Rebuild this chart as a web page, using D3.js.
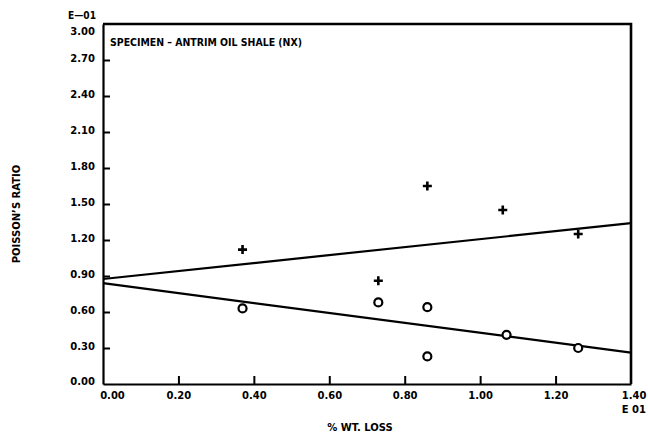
<!DOCTYPE html>
<html>
<head>
<meta charset="utf-8">
<script src="https://cdn.jsdelivr.net/npm/d3@7/dist/d3.min.js"></script>
<style>
  html, body { margin: 0; padding: 0; background: #fff; }
  svg { display: block; }
  text { font-family: "DejaVu Sans", "Liberation Sans", sans-serif; font-weight: bold; fill: #000; }
</style>
</head>
<body>
<svg id="chart" width="648" height="436"></svg>
<script>
// Poisson's ratio (E-01) against % weight loss (E 01), Antrim oil shale, NX specimens
const plusX = [0.37, 0.73, 0.86, 1.06, 1.26];
const plusY = [1.12, 0.86, 1.65, 1.45, 1.25];

const circleX = [0.37, 0.73, 0.86, 0.86, 1.07, 1.26];
const circleY = [0.63, 0.68, 0.64, 0.23, 0.41, 0.30];

// fitted trend lines, end points at the axis limits
const fitUpper = [[0.0, 0.875], [1.4, 1.34]];
const fitLower = [[0.0, 0.84], [1.4, 0.262]];

const xTicks = [0.0, 0.2, 0.4, 0.6, 0.8, 1.0, 1.2, 1.4];
const yTicks = [0.0, 0.3, 0.6, 0.9, 1.2, 1.5, 1.8, 2.1, 2.4, 2.7, 3.0];

const svg = d3.select("#chart");
const plotLeft = 103, plotRight = 631, plotTop = 24, plotBottom = 384;

const x = d3.scaleLinear().domain([0, 1.4]).range([plotLeft, plotRight]);
const y = d3.scaleLinear().domain([0, 3.0]).range([plotBottom, plotTop]);

const frame = svg.append("g");

// x axis with inward ticks
const xAxis = d3.axisBottom(x).tickValues(xTicks).tickSize(-8).tickSizeOuter(0)
  .tickFormat(d3.format(".2f"));
const gx = frame.append("g").attr("transform", `translate(0,${plotBottom})`).call(xAxis);
gx.select(".domain").attr("stroke", "#000").attr("stroke-width", 2.2);
gx.selectAll(".tick line").attr("stroke", "#000").attr("stroke-width", 2)
  .attr("display", d => (d === 0 || d === 1.4) ? "none" : null);
gx.selectAll(".tick text").attr("font-size", 10).attr("y", 8).attr("dy", "0.71em")
  .attr("font-family", "DejaVu Sans").attr("font-weight", "bold")
  .attr("text-anchor", d => d === 1.4 ? "end" : "middle")
  .attr("dx", d => d === 0 ? 9 : (d === 1.4 ? 15 : 0));

// y axis with inward ticks
const yAxis = d3.axisLeft(y).tickValues(yTicks).tickSize(-7).tickSizeOuter(0)
  .tickFormat(d3.format(".2f"));
const gy = frame.append("g").attr("transform", `translate(${plotLeft},0)`).call(yAxis);
gy.select(".domain").attr("stroke", "#000").attr("stroke-width", 2.2);
gy.selectAll(".tick line").attr("stroke", "#000").attr("stroke-width", 2)
  .attr("display", d => (d === 0 || d === 3.0) ? "none" : null);
gy.selectAll(".tick text").attr("font-size", 10).attr("x", -8)
  .attr("font-family", "DejaVu Sans").attr("font-weight", "bold")
  .attr("dy", d => d === 3.0 ? "1.05em" : (d === 0 ? "0.05em" : "0.1em"));
frame.selectAll(".domain").attr("fill", "none");
frame.selectAll(".tick text").attr("fill", "#000");

// top and right border
frame.append("path")
  .attr("d", `M${x(0)},${y(3.0)}H${x(1.4)}V${y(0)}`)
  .attr("fill", "none").attr("stroke", "#000").attr("stroke-width", 2.6);

// exponent markers
svg.append("text").attr("x", 68).attr("y", 19).attr("font-size", 10)
  .attr("textLength", 28).attr("lengthAdjust", "spacingAndGlyphs").text("E\u201401");
svg.append("text").attr("x", 646).attr("y", 413).attr("font-size", 10)
  .attr("text-anchor", "end").text("E 01");

// axis titles
svg.append("text").attr("x", 360).attr("y", 431).attr("font-size", 10)
  .attr("text-anchor", "middle").text("% WT. LOSS");
svg.append("text").attr("transform", "translate(20,214) rotate(-90)")
  .attr("font-size", 10).attr("text-anchor", "middle").text("POISSON\u2019S RATIO");

// specimen caption
svg.append("text").attr("x", 110).attr("y", 46).attr("font-size", 10.5)
  .attr("textLength", 192).attr("lengthAdjust", "spacingAndGlyphs")
  .text("SPECIMEN \u2013 ANTRIM OIL SHALE (NX)");

// trend lines
const line = d3.line().x(d => x(d[0])).y(d => y(d[1]));
svg.append("path").datum(fitUpper).attr("d", line)
  .attr("fill", "none").attr("stroke", "#000").attr("stroke-width", 2.2);
svg.append("path").datum(fitLower).attr("d", line)
  .attr("fill", "none").attr("stroke", "#000").attr("stroke-width", 2.2);

// plus markers
const plusData = plusX.map((v, i) => [v, plusY[i]]);
svg.append("g").selectAll("path").data(plusData).join("path")
  .attr("d", d => `M${x(d[0]) - 4.5},${y(d[1])}h9M${x(d[0])},${y(d[1]) - 4.5}v9`)
  .attr("stroke", "#000").attr("stroke-width", 2.6).attr("fill", "none");

// circle markers
const circleData = circleX.map((v, i) => [v, circleY[i]]);
svg.append("g").selectAll("circle").data(circleData).join("circle")
  .attr("cx", d => x(d[0])).attr("cy", d => y(d[1])).attr("r", 4)
  .attr("fill", "#fff").attr("stroke", "#000").attr("stroke-width", 2.2);
</script>
</body>
</html>
